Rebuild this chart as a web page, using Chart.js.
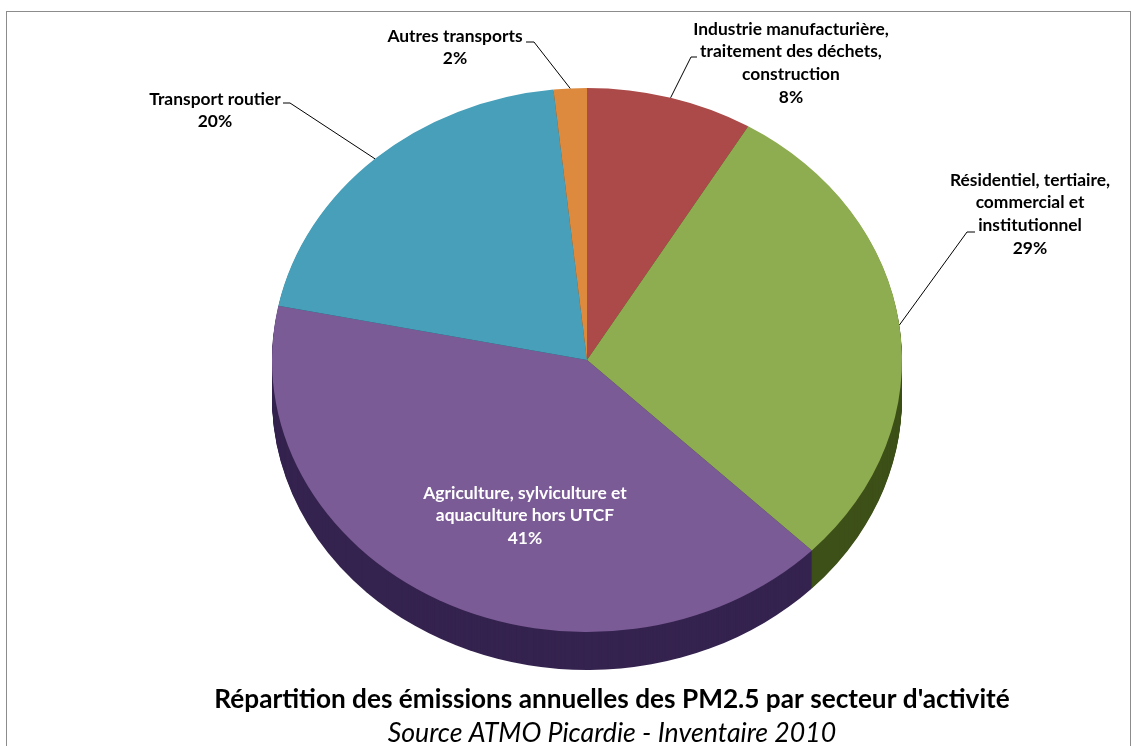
<!DOCTYPE html>
<html>
<head>
<meta charset="utf-8">
<style>
html, body { margin: 0; padding: 0; background: #fff; overflow: hidden; }
canvas { display: block; }
</style>
<script src="https://cdn.jsdelivr.net/npm/chart.js@4"></script>
</head>
<body>
<canvas id="Pie" width="1132" height="746"></canvas>
<script>
// secteurs dans le sens horaire depuis midi
const sectors = [
    ['Industrie manufacturière,', 'traitement des déchets,', 'construction'],
    ['Résidentiel, tertiaire,', 'commercial et', 'institutionnel'],
    ['Agriculture, sylviculture et', 'aquaculture hors UTCF'],
    ['Transport routier'],
    ['Autres transports']
];
const values = [8.55, 28.8, 40.85, 20.1, 1.7];
const percents = ['8%', '29%', '41%', '20%', '2%'];
const topColors = ['#AB4A49', '#8EAC50', '#7B5B96', '#479FBA', '#DD8A3E'];
const sideColors = ['#4f1f1e', '#3D5018', '#35234F', '#1c4858', '#7a4818'];

const titleText = "Répartition des émissions annuelles des PM2.5 par secteur d'activité";
const sourceText = 'Source ATMO Picardie - Inventaire 2010';

const squash = 272 / 315; // aplatissement de la vue 3D
const depth = 38;

// place des etiquettes: centre x, y de la 1ere ligne, coude et fin du trait
const labelBoxes = [
    { x: 791, y: 29, elbow: [691, 57], end: [697, 57] },
    { x: 1030, y: 180, elbow: [967, 232], end: [975, 232] },
    { x: 525, y: 493, color: '#fff' },
    { x: 215, y: 99, elbow: [290, 103], end: [283, 103] },
    { x: 455, y: 36, elbow: [534, 42], end: [526, 42] }
];
const lineHeight = 22.8;

const flatPie = {
    id: 'flatPie',
    beforeDraw(chart) {
        const c = chart.ctx;
        c.save();
        c.fillStyle = '#fff';
        c.fillRect(0, 0, chart.width, chart.height);
        c.strokeStyle = '#8c8c8c';
        c.lineWidth = 1;
        c.strokeRect(6.5, 11.5, 1124, 800);
        c.restore();
    },
    beforeDatasetsDraw(chart) {
        const c = chart.ctx;
        const arcs = chart.getDatasetMeta(0).data;
        const cx = arcs[0].x, cy = arcs[0].y;
        // paroi du camembert: le meme secteur empile vers le bas
        for (let d = depth; d > 0; d--) {
            arcs.forEach((arc, i) => {
                c.save();
                c.translate(cx, cy + d);
                c.scale(1, squash);
                c.beginPath();
                c.moveTo(0, 0);
                c.arc(0, 0, arc.outerRadius, arc.startAngle, arc.endAngle);
                c.closePath();
                c.fillStyle = sideColors[i];
                c.fill();
                c.restore();
            });
        }
        c.save();
        c.translate(cx, cy);
        c.scale(1, squash);
        c.translate(-cx, -cy);
    },
    afterDatasetsDraw(chart) {
        chart.ctx.restore();
    },
    afterDraw(chart) {
        const c = chart.ctx;
        const arcs = chart.getDatasetMeta(0).data;
        c.save();
        c.textAlign = 'center';
        c.textBaseline = 'middle';
        arcs.forEach((arc, i) => {
            const box = labelBoxes[i];
            if (box.elbow) {
                const mid = (arc.startAngle + arc.endAngle) / 2;
                c.beginPath();
                c.moveTo(arc.x + arc.outerRadius * Math.cos(mid), arc.y + arc.outerRadius * squash * Math.sin(mid));
                c.lineTo(box.elbow[0], box.elbow[1]);
                c.lineTo(box.end[0], box.end[1]);
                c.strokeStyle = '#000';
                c.lineWidth = 1;
                c.stroke();
            }
            c.font = '700 17.4px Lato';
            c.fillStyle = box.color || '#000';
            sectors[i].concat(percents[i]).forEach((line, k) => {
                c.fillText(line, box.x, box.y + k * lineHeight);
            });
        });
        c.fillStyle = '#000';
        c.font = '700 26.2px Lato';
        c.fillText(titleText, 612, 700, 796);
        c.font = 'italic 26.7px Lato';
        c.fillText(sourceText, 612, 733, 449);
        c.restore();
    }
};

const canvas = document.getElementById('Pie');
const ctx = canvas.getContext('2d');
const chart = new Chart(ctx, {
    type: 'pie',
    data: {
        labels: sectors.map(s => s.join(' ')),
        datasets: [{
            data: values,
            backgroundColor: topColors,
            borderWidth: 0
        }]
    },
    options: {
        responsive: false,
        animation: false,
        layout: { padding: { left: 272, right: 230, top: 45, bottom: 71 } },
        plugins: {
            legend: { display: false },
            tooltip: { enabled: false }
        }
    },
    plugins: [flatPie]
});
</script>
</body>
</html>
